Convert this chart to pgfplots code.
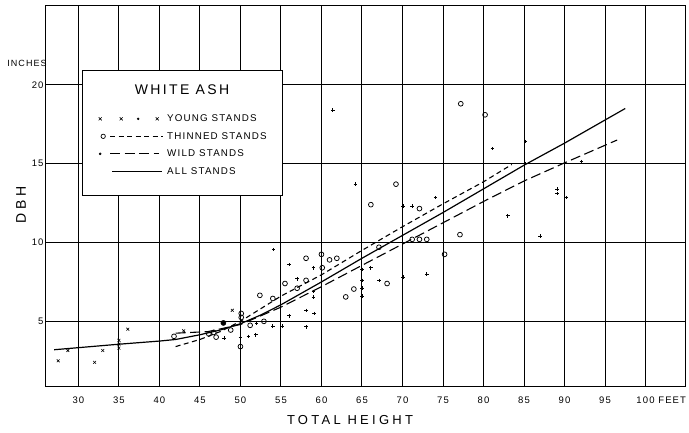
\documentclass[border=0pt]{standalone}
\usepackage{fontspec}
\setmainfont{Liberation Sans}
\newfontfamily\lettr[LetterSpace=12]{Liberation Sans}
\newfontfamily\lettrt[LetterSpace=17]{Liberation Sans}
\newfontfamily\lettrw[LetterSpace=25]{Liberation Sans}
\usepackage{pgfplots}
\pgfplotsset{compat=1.18}

\begin{document}
\begin{tikzpicture}
\begin{axis}[
  at={(0,0)}, anchor=south west,
  scale only axis, width=640pt, height=380pt,
  xmin=26, xmax=105, ymin=0.9, ymax=25,
  xtick={30,35,...,100},
  xticklabels={30,35,40,45,50,55,60,65,70,75,80,85,90,95,100\rlap{ FEET}},
  ytick={5,10,15,20},
  grid=major,
  major grid style={black, line width=0.9pt},
  axis line style={black, line width=1pt},
  tick style={draw=none},
  /pgf/number format/assume math mode=true,
  xticklabel style={font=\lettr\fontsize{9.5}{9.5}\selectfont, yshift=-7pt},
  yticklabel style={font=\lettr\fontsize{9.5}{9.5}\selectfont, xshift=1pt},
  legend cell align=left,
  legend style={
    at={(0.05625,0.634)}, anchor=west,
    draw=none, fill=none,
    font=\lettr\fontsize{9.8}{10}\selectfont,
    inner xsep=15pt, inner ysep=0pt,
    row sep=0pt,
    nodes={inner sep=0pt},
  },
]
% legend frame (white box hiding the grid) and title
\draw[black, line width=0.9pt, fill=white] (rel axis cs:0.05625,0.8316) rectangle (rel axis cs:0.36875,0.5026);
\node[font=\lettrt\fontsize{14}{14}\selectfont] at (rel axis cs:0.2125,0.779) {WHITE ASH};
% Young stands
\addplot[only marks, mark=x, mark size=2pt, black, line width=0.6pt, forget plot] coordinates {
(27.5,2.5) (28.7,3.15) (32.0,2.4) (33.0,3.15) (35.0,3.3) (35.0,3.55) (35.0,3.8)
(36.1,4.5) (43.0,4.4) (49.0,5.7)
};
% Thinned stands
\addplot[only marks, mark=o, mark size=2.4pt, black, line width=0.75pt, forget plot] coordinates {
(41.8,4.05) (46.1,4.2) (46.7,4.3) (47.0,4.0) (48.8,4.45) (50.0,3.4) (50.1,5.5) (50.1,5.25)
(51.2,4.75) (52.9,5.0) (52.4,6.65) (54.0,6.45) (55.5,7.4) (57.0,7.1) (58.1,7.6) (58.1,9.0)
(60.0,9.25) (60.1,8.4) (61.0,8.9) (61.9,9.0) (63.0,6.55) (64.0,7.05) (66.1,12.4) (67.1,9.7)
(68.1,7.4) (69.2,13.7) (71.2,10.2) (72.1,10.2) (73.0,10.2) (72.1,12.15) (75.2,9.25)
(77.1,10.5) (77.2,18.8) (80.2,18.1)
};
\addplot[only marks, mark=*, mark size=2.6pt, black, forget plot] coordinates {(47.9,4.9)};
% Wild stands
\addplot[only marks, mark=+, mark size=1.8pt, black, line width=0.75pt, forget plot] coordinates {
(48.0,3.95) (50.0,4.0) (51.0,4.05) (51.9,4.15) (52.0,4.9) (54.0,4.7) (55.2,4.7) (54.1,9.55)
(56.0,8.6) (56.0,5.35) (57.0,7.7) (58.1,5.7) (58.1,4.65) (59.0,8.4) (59.0,6.9) (59.0,6.55)
(59.1,5.5) (61.4,18.4) (64.2,13.7) (65.0,8.3) (65.0,7.6) (65.0,7.1) (65.0,6.6) (66.1,8.4)
(67.1,7.6) (70.1,7.8) (70.1,12.3) (71.2,12.3) (73.0,8.0) (74.1,12.85) (81.1,15.95)
(83.0,11.7) (85.2,16.4) (85.2,15.0) (87.0,10.4) (89.1,13.4) (89.1,13.1) (90.2,12.85) (92.1,15.15)
};
% All stands
\addplot[black, line width=1.2pt, forget plot] coordinates {
(27,3.2) (35,3.55) (40,3.75) (42,3.85) (45,4.15) (47.5,4.45) (50,4.85) (52.5,5.4) (55,6.05)
(60,7.5) (65,9.0) (70,10.45) (75,11.9) (80,13.4) (85,14.9) (90,16.3) (97.5,18.5)
};
% Thinned stands curve
\addplot[black, line width=1.1pt, dash pattern=on 5pt off 3.5pt, forget plot] coordinates {
(42,3.4) (45,3.85) (47.5,4.35) (50,5.0) (52.5,5.8) (55,6.6) (60,7.95) (65,9.5) (70,11.0)
(75,12.45) (80,13.85) (83.5,14.95)
};
% Wild stands curve
\addplot[black, line width=1.1pt, dash pattern=on 10pt off 4.5pt, forget plot] coordinates {
(42,4.25) (46,4.35) (50,4.8) (55,5.9) (60,7.2) (65,8.55) (70,9.9) (75,11.25) (80,12.6)
(85,13.9) (90,15.05) (96.5,16.5)
};
% Legend entries
\addlegendimage{legend image code/.code={
  \draw[black, line width=0.6pt, solid] (1.5pt,-1.5pt) -- (4.5pt,1.5pt) (1.5pt,1.5pt) -- (4.5pt,-1.5pt)
     (22.5pt,-1.5pt) -- (25.5pt,1.5pt) (22.5pt,1.5pt) -- (25.5pt,-1.5pt)
     (58.5pt,-1.5pt) -- (61.5pt,1.5pt) (58.5pt,1.5pt) -- (61.5pt,-1.5pt);
  \fill[black] (41pt,0pt) circle (1pt);
  \path[draw=none, fill=none] (0pt,-8.75pt) rectangle (70pt,8.75pt);}}
\addlegendentry{YOUNG STANDS}
\addlegendimage{legend image code/.code={
  \draw[black, line width=0.7pt, solid] (6pt,0pt) circle (2.2pt);
  \draw[black, line width=1pt, dash pattern=on 5pt off 3.5pt] (13pt,0pt) -- (66pt,0pt);
  \path[draw=none, fill=none] (0pt,-8.75pt) rectangle (70pt,8.75pt);}}
\addlegendentry{THINNED STANDS}
\addlegendimage{legend image code/.code={
  \fill[black] (3pt,0pt) circle (1.1pt);
  \draw[black, line width=1pt, dash pattern=on 10pt off 4.5pt] (13pt,0pt) -- (62pt,0pt);
  \path[draw=none, fill=none] (0pt,-8.75pt) rectangle (70pt,8.75pt);}}
\addlegendentry{WILD STANDS}
\addlegendimage{legend image code/.code={
  \draw[black, line width=1pt, solid] (15pt,0pt) -- (65pt,0pt);
  \path[draw=none, fill=none] (0pt,-8.75pt) rectangle (70pt,8.75pt);}}
\addlegendentry{ALL STANDS}
\end{axis}
% axis titles (axis lower-left corner is at the origin; 1pt = 1px)
\node[font=\lettrw\fontsize{13}{13}\selectfont] at (304pt,-34pt) {TOTAL HEIGHT};
\node[font=\lettrw\fontsize{14}{14}\selectfont, rotate=90] at (-25pt,181pt) {DBH};
\node[font=\lettr\fontsize{9}{9}\selectfont] at (-19pt,322.5pt) {INCHES};
\pgfresetboundingbox
\path[use as bounding box] (-46pt,-46pt) rectangle (643pt,386pt);
\end{tikzpicture}
\end{document}
